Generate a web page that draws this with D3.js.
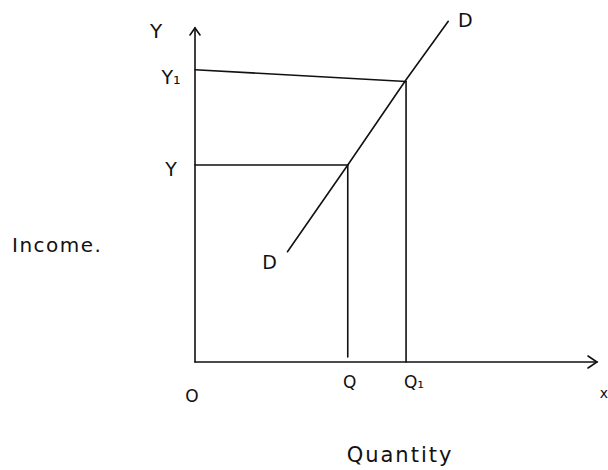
<!DOCTYPE html>
<html><head><meta charset="utf-8">
<script src="https://cdn.jsdelivr.net/npm/d3@7"></script>
<style>body{margin:0;background:#fff}</style>
</head><body>
<svg id="c" width="608" height="470"></svg>
<script>
// Data (abstract units)
const demandCurve = [ {q:2.3, y:3.3}, {q:3.8, y:5.9}, {q:5.25, y:8.45}, {q:6.3, y:10.2} ];
const incomeLevels = [ {name:"Y", y:5.9, yEnd:5.9, q:3.8}, {name:"Y₁", y:8.75, yEnd:8.4, q:5.25} ];
const quantityLevels = [ {name:"Q", q:3.8, y:5.9}, {name:"Q₁", q:5.25, y:8.4} ];
const axisLabels = {x:"Quantity", y:"Income."};

const svg = d3.select("#c");
const x = d3.scaleLinear().domain([0,10]).range([195,597]);
const y = d3.scaleLinear().domain([0,10]).range([362,28]);
const font = "'DejaVu Sans', sans-serif";
const g = svg.append("g").attr("stroke","#111").attr("fill","none").attr("stroke-width",1.6).attr("stroke-linecap","round");

// axes
g.append("line").attr("x1",x(0)).attr("y1",y(0)).attr("x2",x(0)).attr("y2",y(10));
g.append("line").attr("x1",x(0)).attr("y1",y(0)).attr("x2",x(10)).attr("y2",y(0));
g.append("path").attr("d",`M${x(0)-5},${y(10)+7}L${x(0)},${y(10)}L${x(0)+5},${y(10)+7}`);
g.append("path").attr("d",`M${x(10)-9},${y(0)-6}L${x(10)},${y(0)}L${x(10)-9},${y(0)+6}`);

// guide lines
incomeLevels.forEach(d=>{
  g.append("line").attr("x1",x(0)).attr("y1",y(d.y)).attr("x2",x(d.q)).attr("y2",y(d.yEnd));
});
quantityLevels.forEach(d=>{
  g.append("line").attr("x1",x(d.q)).attr("y1",y(d.y)).attr("x2",x(d.q)).attr("y2",y(0)-(d.name==="Q"?5:0));
});

// demand curve
g.append("path").datum(demandCurve)
  .attr("d", d3.line().x(d=>x(d.q)).y(d=>y(d.y)));

const t = svg.append("g").attr("fill","#111").attr("font-family",font);
function txt(s,px,py,size,anchor,ls){ t.append("text").attr("x",px).attr("y",py).attr("font-size",size).attr("text-anchor",anchor||"middle").attr("letter-spacing",ls||0).text(s); }
txt("Y", 156, 38, 20);
incomeLevels.forEach(d=>{ txt(d.name, x(0)-24, y(d.y)+(d.name==="Y"?11:14), 19); });
txt("D", x(demandCurve[3].q)+17, y(demandCurve[3].y)+6, 19);
txt("D", x(demandCurve[0].q)-18, y(demandCurve[0].y)+17, 19);
txt("O", x(0)-3, y(0)+40, 17);
quantityLevels.forEach(d=>{ txt(d.name, x(d.q)+(d.name==="Q"?2:8), y(0)+26, 17); });
txt(axisLabels.y, 12, 252, 20, "start", 1.5);
txt(axisLabels.x, 400, 462, 21, "middle", 2);
txt("x", 604, 398, 14);
</script>
</body></html>
